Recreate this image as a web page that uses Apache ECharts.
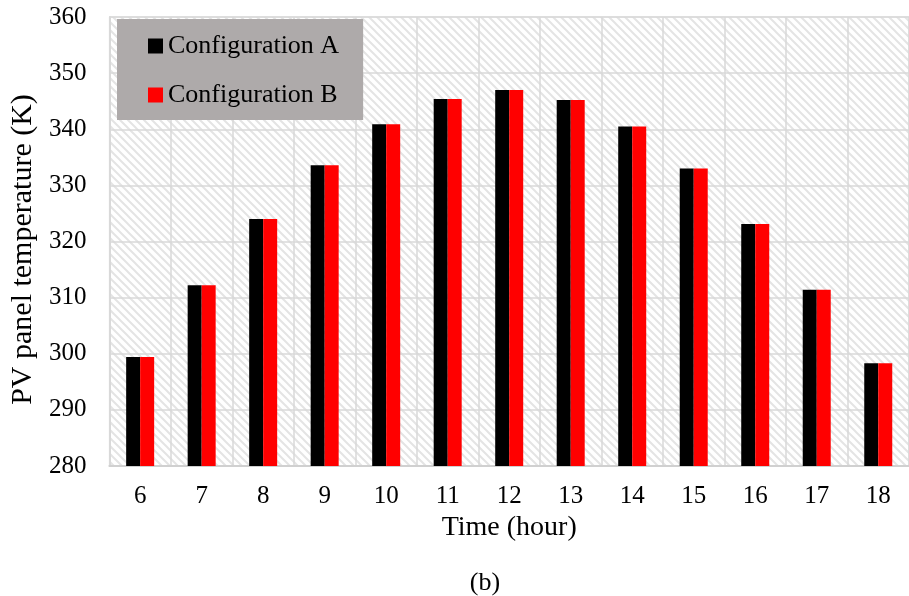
<!DOCTYPE html>
<html>
<head>
<meta charset="utf-8">
<script src="https://cdn.jsdelivr.net/npm/echarts@6/dist/echarts.min.js"></script>
<style>
html,body{margin:0;padding:0;background:#fff;}
#chart{width:909px;height:596px;}
</style>
</head>
<body>
<div id="chart"></div>
<script>
const categories = ['6','7','8','9','10','11','12','13','14','15','16','17','18'];
const configA = [299.4, 312.2, 324.0, 333.6, 340.9, 345.4, 347.0, 345.2, 340.5, 333.0, 323.1, 311.4, 298.3];
const configB = [299.4, 312.2, 324.0, 333.6, 340.9, 345.4, 347.0, 345.2, 340.5, 333.0, 323.1, 311.4, 298.3];
const yTicks = {min: 280, max: 360, interval: 10};

const FONT = "'Liberation Serif', 'Times New Roman', serif";

// hatch pattern
const pc = document.createElement('canvas');
pc.width = 8; pc.height = 8;
const ctx = pc.getContext('2d');
ctx.fillStyle = '#ffffff';
ctx.fillRect(0,0,8,8);
ctx.strokeStyle = '#e4e4e4';
ctx.lineWidth = 2;
ctx.beginPath();
ctx.moveTo(-2,-2); ctx.lineTo(10,10);
ctx.moveTo(-6,2); ctx.lineTo(2,10);
ctx.moveTo(6,-2); ctx.lineTo(14,6);
ctx.stroke();

const chart = echarts.init(document.getElementById('chart'));
chart.setOption({
  animation: false,
  backgroundColor: '#ffffff',
  title: {
    text: '(b)',
    left: 480, top: 565, textAlign: 'center',
    textStyle: {fontFamily: FONT, fontSize: 26, fontWeight: 'normal', color: '#000'}
  },
  legend: {
    left: 117, top: 19,
    orient: 'vertical',
    backgroundColor: '#aeaaaa',
    padding: [14, 24, 12, 31],
    itemGap: 23,
    itemWidth: 15, itemHeight: 15,
    icon: 'rect',
    textStyle: {fontFamily: FONT, fontSize: 26, color: '#000'},
    data: ['Configuration A', 'Configuration B']
  },
  grid: {
    left: 108, right: -9, top: 17, bottom: 130,
    show: true,
    backgroundColor: {image: pc, repeat: 'repeat'},
    borderColor: '#d9d9d9', borderWidth: 1
  },
  xAxis: {
    type: 'category',
    data: categories,
    name: 'Time (hour)',
    nameLocation: 'middle',
    nameGap: 44,
    nameTextStyle: {fontFamily: FONT, fontSize: 28, color: '#000'},
    axisLine: {show: true, lineStyle: {color: '#d0d0d0', width: 2}},
    axisTick: {show: false},
    axisLabel: {fontFamily: FONT, fontSize: 25, color: '#000', margin: 18},
    splitLine: {show: true, interval: 0, lineStyle: {color: '#d9d9d9', width: 1.5}}
  },
  yAxis: {
    type: 'value',
    min: yTicks.min, max: yTicks.max, interval: yTicks.interval,
    name: 'PV panel temperature (K)',
    nameLocation: 'middle',
    nameGap: 70,
    nameTextStyle: {fontFamily: FONT, fontSize: 30, color: '#000', padding: [0, 16, 0, 0]},
    axisLine: {show: true, lineStyle: {color: '#d9d9d9', width: 2}},
    axisTick: {show: false},
    axisLabel: {fontFamily: FONT, fontSize: 25, color: '#000', margin: 23},
    splitLine: {show: true, lineStyle: {color: '#d9d9d9', width: 1.5}}
  },
  series: [
    {name: 'Configuration A', type: 'bar', data: configA, barWidth: 14, barGap: '0%',
     itemStyle: {color: '#000000'}},
    {name: 'Configuration B', type: 'bar', data: configB, barWidth: 14, barGap: '0%',
     itemStyle: {color: '#ff0000'}}
  ]
});
</script>
</body>
</html>
